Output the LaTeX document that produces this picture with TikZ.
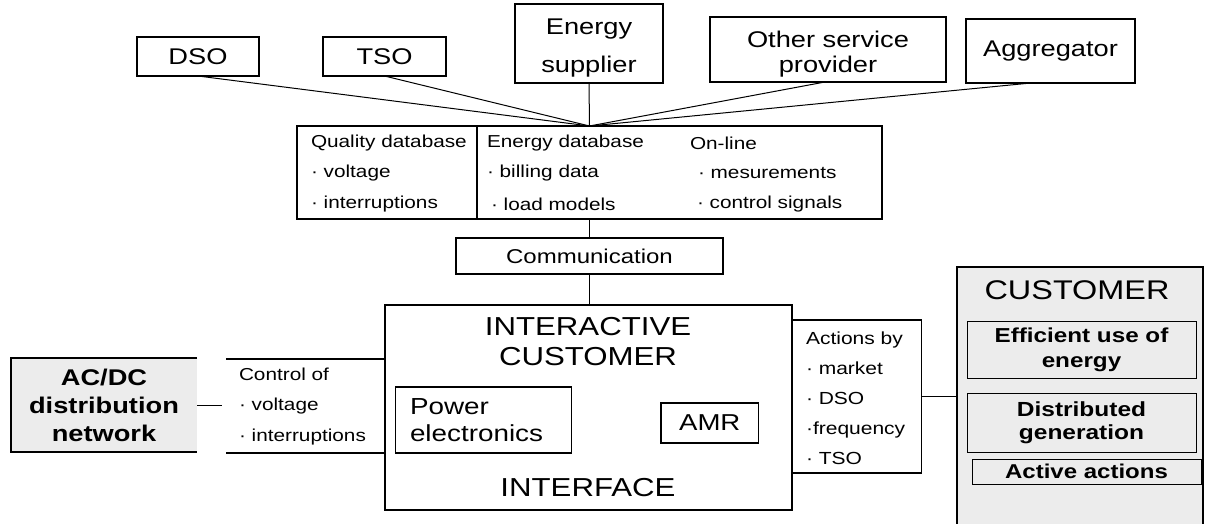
\documentclass[tikz,border=0pt]{standalone}
\usepackage{fontspec}
\setmainfont[FakeStretch=1.2]{Liberation Sans}
\usetikzlibrary{calc}
\definecolor{panelgray}{RGB}{236,236,236}
\newcommand{\myfs}[2]{\fontsize{#1}{#2}\selectfont}
\begin{document}
\begin{tikzpicture}[x=1pt,y=-1pt,
  box/.style={draw=black, line width=1.1pt, fill=white, inner sep=0pt, outer sep=0pt, align=center, text=black},
  gbox/.style={box, fill=panelgray},
  conn/.style={draw=black, line width=1pt},
  edge/.style={draw=black, line width=1.1pt},
  lbl/.style={inner sep=0pt, outer sep=0pt, align=left, anchor=west, text=black},
  txt/.style={inner sep=0pt, outer sep=0pt, align=center, text=black},
  small/.style={font=\myfs{17.3}{30.5}},
  big/.style={font=\myfs{22.7}{25}}]
\useasboundingbox (0,0) rectangle (1207,524);

% top boxes
\node[box, big, minimum width=122pt, minimum height=39pt] (dso) at (198,56.5) {DSO};
\node[box, big, minimum width=123pt, minimum height=39pt] (tso) at (384.5,56.5) {TSO};
\node[box, minimum width=148pt, minimum height=79pt] (es) at (589,43.5) {};
\node[txt, font=\myfs{22.7}{38}] (est) at (589,48) {Energy\\supplier};
\node[box, minimum width=236pt, minimum height=65pt] (osp) at (828,49.5) {};
\draw[line width=2pt] (osp.south west) -- (osp.south east);
\node[txt, big] (ospt) at (828,54) {Other service\\provider};
\node[box, big, minimum width=169pt, minimum height=64pt] (agg) at (1050.5,51) {Aggregator};

% database box
\node[box, minimum width=585pt, minimum height=93pt] (db) at (589.5,172.5) {};
\coordinate (divx) at (477,0);
\draw[edge] (db.north -| divx) -- (db.south -| divx);
\node[lbl, small] (q1) at (311,143) {Quality database};
\node[lbl, small] (q2) at (311,173) {· voltage};
\node[lbl, small] (q3) at (311,204) {· interruptions};
\node[lbl, small] (e1) at (487,143) {Energy database};
\node[lbl, small] (e2) at (487,173) {· billing data};
\node[lbl, small] (e3) at (491,204) {· load models};
\node[lbl, small] (o1) at (690,143) {On-line};
\node[lbl, small] (o2) at (698,173) {· mesurements};
\node[lbl, small] (o3) at (697,204) {· control signals};

% hub connectors
\coordinate (hub) at (db.north);
\draw[conn] (dso.south) -- (hub);
\draw[conn] (tso.south) -- (hub);
\draw[conn] (es.south) -- (hub);
\draw[conn] ([xshift=-3pt]osp.south) -- (hub);
\draw[conn] ([xshift=-19.5pt]agg.south) -- (hub);

% communication
\node[box, font=\myfs{20}{24}, minimum width=267pt, minimum height=36pt] (comm) at (589.5,256) {Communication};
\draw[conn] (db.south) -- (comm.north);

% actions box (drawn before the interface box)
\node[box, minimum width=129.5pt, minimum height=153pt] (act) at (856.75,396.5) {};
\node[lbl, font=\myfs{17.5}{30}] (actt) at (806,398) {Actions by\\· market\\· DSO\\·frequency\\· TSO};

% interactive customer interface
\node[box, line width=1.8pt, minimum width=407pt, minimum height=205pt] (ic) at (588.5,407.5) {};
\draw[conn] (comm.south) -- (comm.south |- ic.north);
\node[txt, font=\myfs{26}{30}] (ict) at (588,342) {INTERACTIVE\\CUSTOMER};
\node[txt, font=\myfs{26}{30}] (icb) at (588,488) {INTERFACE};
\node[box, minimum width=176pt, minimum height=66pt] (pe) at (483.5,420) {};
\node[lbl, font=\myfs{23.2}{27}] (pet) at (410,420.5) {Power\\electronics};
\node[box, font=\myfs{23}{27}, minimum width=97.5pt, minimum height=40pt] (amr) at (709.75,423) {AMR};

% customer panel
\node[gbox, minimum width=246pt, minimum height=263pt, anchor=north west] (cust) at (957,267) {};
\node[txt, font=\myfs{27}{30}] (custt) at (1077,290) {CUSTOMER};
\node[gbox, line width=0.9pt, font=\bfseries\myfs{20.2}{25}, minimum width=229pt, minimum height=57pt] (eff) at (1081.5,349.5) {Efficient use of\\energy};
\node[gbox, line width=0.9pt, font=\bfseries\myfs{20.4}{23}, minimum width=229pt, minimum height=59pt] (dg) at (1081.5,422.5) {Distributed\\generation};
\node[gbox, line width=0.9pt, font=\bfseries\myfs{20}{24}, minimum width=229pt, minimum height=25pt] (aa) at (1086.5,471.5) {Active actions};
\draw[conn] (act.east) -- (act.east -| cust.west);

% AC/DC network and control bracket
\node[fill=panelgray, inner sep=0pt, outer sep=0pt, align=center, text=black, font=\bfseries\myfs{22.7}{28}, minimum width=186pt, minimum height=94pt] (acdc) at (104,405) {AC/DC\\distribution\\network};
\draw[edge] (acdc.north east) -- (acdc.north west) -- (acdc.south west) -- (acdc.south east);
\coordinate (ctl) at (222,405);
\draw[conn] (acdc.east) -- (ctl);
\coordinate (ctop) at (226,359);
\coordinate (cbot) at (226,453);
\draw[edge] (ctop) -- (ctop -| ic.west);
\draw[edge] (cbot) -- (cbot -| ic.west);
\node[lbl, font=\myfs{17.3}{30.5}] (ctlt) at (239,406.5) {Control of\\· voltage\\· interruptions};
\end{tikzpicture}
\end{document}
